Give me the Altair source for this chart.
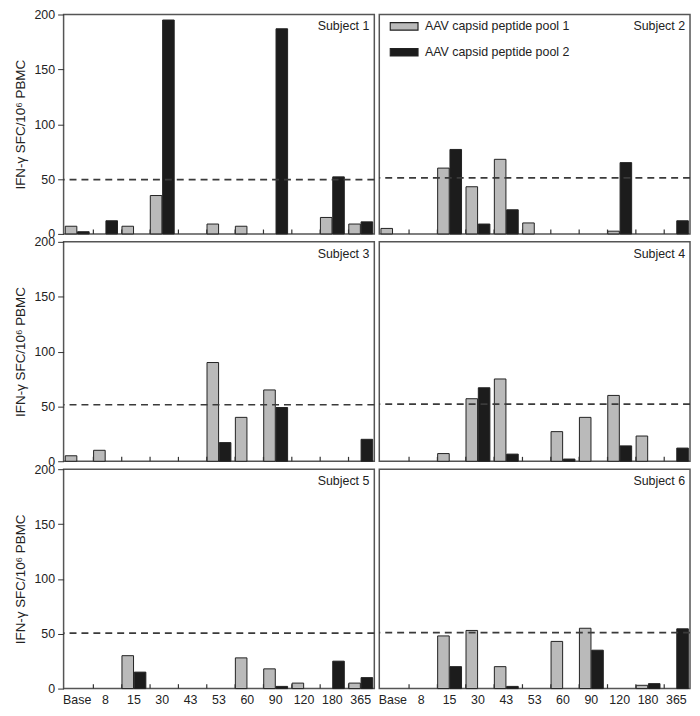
import altair as alt
import pandas as pd

DAYS = ["Base", "8", "15", "30", "43", "53", "60", "90", "120", "180", "365"]
POOLS = ["AAV capsid peptide pool 1", "AAV capsid peptide pool 2"]
SUBJECTS = ["Subject 1", "Subject 2", "Subject 3", "Subject 4", "Subject 5", "Subject 6"]

S1_P1 = [7, 0, 7, 35, 0, 9, 7, 0, 0, 15, 9]
S1_P2 = [2, 12, 0, 195, 0, 0, 0, 187, 0, 52, 11]
S2_P1 = [5, 0, 60, 43, 68, 10, 0, 0, 2.5, 0, 0]
S2_P2 = [0, 0, 77, 9, 22, 0, 0, 0, 65, 0, 12]
S3_P1 = [5, 10, 0, 0, 0, 90, 40, 65, 0, 0, 0]
S3_P2 = [0, 0, 0, 0, 0, 17, 0, 49, 0, 0, 20]
S4_P1 = [0, 0, 7, 57, 75, 0, 27, 40, 60, 23, 0]
S4_P2 = [0, 0, 0, 67, 6.5, 0, 2, 0, 14, 0, 12]
S5_P1 = [0, 0, 30, 0, 0, 0, 28, 18, 5, 0, 5]
S5_P2 = [0, 0, 15, 0, 0, 0, 0, 2, 0, 25, 10]
S6_P1 = [0, 0, 48, 53, 20, 0, 43, 55, 0, 3, 0]
S6_P2 = [0, 0, 20, 0, 2, 0, 0, 35, 0, 4.5, 54.5]
THRESHOLDS = [49.5, 51, 51.5, 52, 50.5, 51]

POOL1 = [S1_P1, S2_P1, S3_P1, S4_P1, S5_P1, S6_P1]
POOL2 = [S1_P2, S2_P2, S3_P2, S4_P2, S5_P2, S6_P2]

FONT = "Liberation Sans"
W, H = 313, 221
YTITLE = "IFN-\u03b3 SFC/10\u2076 PBMC"


def panel(i, show_y, show_x, show_legend):
    rows = []
    for d, v1, v2 in zip(DAYS, POOL1[i], POOL2[i]):
        if v1 > 0:
            rows.append({"day": d, "pool": POOLS[0], "value": v1})
        if v2 > 0:
            rows.append({"day": d, "pool": POOLS[1], "value": v2})
    df = pd.DataFrame(rows)

    xscale = alt.Scale(domain=DAYS, paddingInner=0.14, paddingOuter=0.05)
    if show_x:
        xaxis = alt.Axis(title=None, labelAngle=0, ticks=False, domain=False,
                         labelPadding=5, labelFontSize=12.5, labelColor="#222",
                         labelFont=FONT)
    else:
        xaxis = None
    yscale = alt.Scale(domain=[0, 200], nice=False)
    if show_y:
        yaxis = alt.Axis(title=YTITLE, values=[0, 50, 100, 150, 200], grid=False,
                         domain=False, tickSize=6, tickColor="#333", labelPadding=3,
                         labelFontSize=12.5, labelColor="#222", labelFont=FONT,
                         titleFontSize=13.5, titleFontWeight="normal", titleColor="#222",
                         titleFont=FONT, titlePadding=7)
    else:
        yaxis = None

    if show_legend:
        legend = alt.Legend(title=None, orient="none", legendX=10, legendY=1,
                            symbolType="M-1,-0.27H1V0.27H-1Z", symbolSize=784,
                            symbolStrokeColor="#222", symbolStrokeWidth=1.2,
                            labelFontSize=12.5, labelFont=FONT, labelColor="#222",
                            labelOffset=6, clipHeight=22, rowPadding=4)
    else:
        legend = None

    bars = alt.Chart(df).mark_bar(stroke="#222", strokeWidth=1).encode(
        x=alt.X("day:N", sort=DAYS, scale=xscale, axis=xaxis),
        xOffset=alt.XOffset("pool:N", sort=POOLS,
                            scale=alt.Scale(domain=POOLS, paddingInner=0.06, paddingOuter=0.02)),
        y=alt.Y("value:Q", scale=yscale, axis=yaxis),
        color=alt.Color("pool:N", scale=alt.Scale(domain=POOLS, range=["#bababa", "#1c1c1c"]),
                        legend=legend),
    )

    ticks = alt.Chart(pd.DataFrame({"day": DAYS[1:]})).mark_rule(
        color="#333", strokeWidth=1.2
    ).encode(
        x=alt.X("day:N", sort=DAYS, scale=xscale, bandPosition=0, axis=xaxis),
        y=alt.Y(datum=0, scale=yscale, axis=yaxis),
        y2=alt.Y2(datum=4),
    )

    thr = alt.Chart(pd.DataFrame({"t": [THRESHOLDS[i]]})).mark_rule(
        color="#3a3a3a", strokeWidth=1.7, strokeDash=[7, 5]
    ).encode(y=alt.Y("t:Q", scale=yscale, axis=yaxis))

    label = alt.Chart(pd.DataFrame({"s": [SUBJECTS[i]]})).mark_text(
        align="right", baseline="top", fontSize=12.5, font=FONT, color="#222"
    ).encode(text="s:N", x=alt.value(W - 5), y=alt.value(6))

    return alt.layer(bars, ticks, thr, label).properties(width=W, height=H)


panels = [
    panel(0, True, False, False), panel(1, False, False, True),
    panel(2, True, False, False), panel(3, False, False, False),
    panel(4, True, True, False), panel(5, False, True, False),
]

chart = alt.concat(*panels, columns=2, spacing={"row": 8, "column": 5},
                   bounds="flush").resolve_scale(
    color="independent"
).resolve_legend(color="independent").properties(
    padding={"left": 4, "top": -3, "right": 0, "bottom": 0},
    background="white",
).configure_view(
    stroke="#555", strokeWidth=1.5
)

chart.save("out.html", embed_options={"renderer": "svg", "actions": False})
